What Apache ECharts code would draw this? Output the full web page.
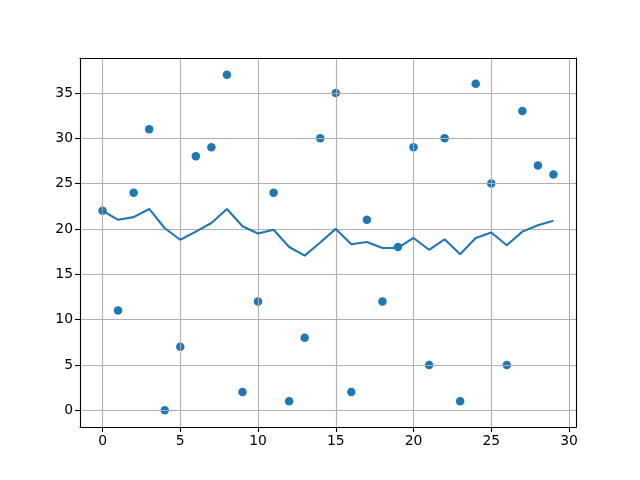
<!DOCTYPE html>
<html>
<head>
<meta charset="utf-8">
<script src="https://cdn.jsdelivr.net/npm/echarts@6/dist/echarts.min.js"></script>
<style>html,body{margin:0;padding:0;background:#fff}#c{width:640px;height:480px}</style>
</head>
<body>
<div id="c"></div>
<script>
const xValues = [0,1,2,3,4,5,6,7,8,9,10,11,12,13,14,15,16,17,18,19,20,21,22,23,24,25,26,27,28,29];
const scatterValues = [22,11,24,31,0,7,28,29,37,2,12,24,1,8,30,35,2,21,12,18,29,5,30,1,36,25,5,33,27,26];
const lineValues = [22.0,21.0,21.3,22.2,20.07,18.8,19.7,20.65,22.2,20.3,19.5,19.9,18.0,17.05,18.5,20.0,18.3,18.55,17.9,17.9,19.0,17.7,18.85,17.2,19.0,19.6,18.2,19.7,20.4,20.9];
const xTicks = [0,5,10,15,20,25,30];
const yTicks = [0,5,10,15,20,25,30,35];

const font = 'DejaVu Sans';
function axisCommon(ticks){
  return {
    type:'value',
    minInterval:5, maxInterval:5,
    z:3,
    axisLine:{show:true,onZero:false,lineStyle:{color:'#000',width:1.1}},
    axisTick:{show:true,inside:false,length:5,customValues:ticks,lineStyle:{color:'#000',width:1.1}},
    axisLabel:{show:true,customValues:ticks,color:'#000',fontFamily:font,fontSize:13.9,margin:7},
    splitLine:{show:true,lineStyle:{color:'#b0b0b0',width:1.1}}
  };
}
const xA = axisCommon(xTicks); xA.min=-1.45; xA.max=30.45;
const yA = axisCommon(yTicks); yA.min=-1.85; yA.max=38.85;

const chart = echarts.init(document.getElementById('c'), null, {renderer:'canvas'});
chart.setOption({
  animation:false,
  backgroundColor:'#fff',
  grid:{left:80,right:64,top:58,bottom:53,containLabel:false,show:false},
  xAxis:[xA, Object.assign({}, xA, {position:'top', axisLabel:{show:false}, axisTick:{show:false}, splitLine:{show:false}})],
  yAxis:[yA, Object.assign({}, yA, {position:'right', axisLabel:{show:false}, axisTick:{show:false}, splitLine:{show:false}})],
  series:[
    {type:'scatter',xAxisIndex:0,yAxisIndex:0,z:2,symbol:'circle',symbolSize:8.5,
     itemStyle:{color:'#1f77b4',opacity:1},
     data:xValues.map((x,i)=>[x,scatterValues[i]])},
    {type:'line',xAxisIndex:0,yAxisIndex:0,z:5,showSymbol:false,symbol:'none',
     lineStyle:{color:'#1f77b4',width:2.1},
     data:xValues.map((x,i)=>[x,lineValues[i]])}
  ]
});
</script>
</body>
</html>
